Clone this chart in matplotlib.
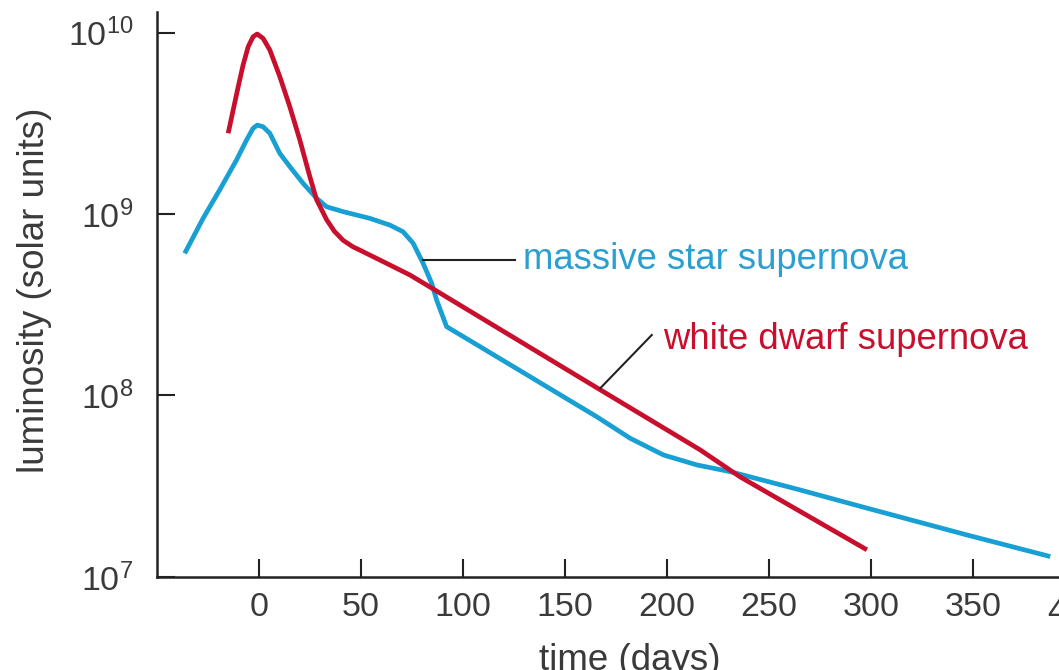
import matplotlib.pyplot as plt
import numpy as np

plt.rcParams['font.family'] = ['Liberation Sans', 'DejaVu Sans']
plt.rcParams['mathtext.fontset'] = 'custom'
plt.rcParams['mathtext.rm'] = 'Liberation Sans'
plt.rcParams['mathtext.it'] = 'Liberation Sans'

# massive star supernova (days, log10 luminosity in solar units)
massive_days = [-36.3, -27.3, -19.1, -10.9, -6.0, -2.8, -0.8, 2.1, 5.4, 10.3, 15.2,
                21.7, 28.3, 33.2, 41.3, 54.4, 64.2, 70.7, 75.6, 80.5, 84.7, 87.1,
                92.0, 100.2, 116.5, 132.8, 149.2, 165.5, 181.9, 198.2, 214.6, 230.9,
                265.2, 297.9, 346.9, 387.7]
massive_log = [8.783, 8.976, 9.134, 9.298, 9.408, 9.472, 9.490, 9.481, 9.445, 9.334,
               9.261, 9.169, 9.087, 9.040, 9.013, 8.976, 8.939, 8.902, 8.839, 8.728,
               8.618, 8.526, 8.379, 8.324, 8.214, 8.104, 7.993, 7.883, 7.764, 7.672,
               7.617, 7.580, 7.479, 7.379, 7.231, 7.112]

# white dwarf supernova
dwarf_days = [-15.0, -12.6, -10.1, -7.7, -5.2, -2.8, -0.8, 2.1, 5.4, 10.3, 15.2, 20.1,
              25.0, 28.3, 33.2, 37.0, 41.3, 46.0, 51.1, 62.6, 74.0, 83.8, 165.5, 216.2,
              235.8, 297.9]
dwarf_log = [9.445, 9.571, 9.701, 9.821, 9.922, 9.977, 9.992, 9.968, 9.904, 9.757,
             9.591, 9.408, 9.206, 9.079, 8.969, 8.905, 8.855, 8.820, 8.792, 8.728,
             8.664, 8.598, 8.043, 7.700, 7.551, 7.149]

x_ticks = [0, 50, 100, 150, 200, 250, 300, 350]
y_ticks = [1e7, 1e8, 1e9, 1e10]
y_labels = ['$10^{7}$', '$10^{8}$', '$10^{9}$', '$10^{10}$']

blue = '#189fd4'
red = '#c8102e'
ink = '#222222'
txt = '#3a3a3a'

fig = plt.figure(figsize=(10.59, 6.70), dpi=100)
ax = fig.add_axes([0.148, 0.139, 0.852, 0.843])

ax.plot(massive_days, 10 ** np.array(massive_log), color=blue, lw=3.4,
        solid_capstyle='butt', solid_joinstyle='round')
ax.plot(dwarf_days, 10 ** np.array(dwarf_log), color=red, lw=3.4,
        solid_capstyle='butt', solid_joinstyle='round')

ax.set_yscale('log')
ax.set_xlim(-50, 392)
ax.set_ylim(1e7, 10 ** 10.113)
ax.set_xticks(x_ticks)
ax.set_yticks(y_ticks)
ax.set_yticklabels(y_labels)
ax.minorticks_off()

for s in ['top', 'right']:
    ax.spines[s].set_visible(False)
for s in ['left', 'bottom']:
    ax.spines[s].set_linewidth(1.8)
    ax.spines[s].set_color(ink)

ax.tick_params(axis='both', direction='in', length=13, width=1.5, color=ink,
               labelcolor=txt)
ax.tick_params(axis='x', labelsize=24.5, pad=11)
ax.tick_params(axis='y', labelsize=24.5, pad=17)

# the "400" label, cut by the right edge
ax.text(400, -0.035, '400', transform=ax.get_xaxis_transform(), fontsize=24.5,
        color=txt, ha='center', va='top', clip_on=False)

fig.text(35 / 1059, 1 - 290 / 670, 'luminosity (solar units)', rotation=90,
         fontsize=26.5, color=txt, ha='center', va='center')
fig.text(630 / 1059, 1 - 643 / 670, 'time (days)', fontsize=26.5, color=txt,
         ha='center', va='top')

# callouts
ax.plot([80.4, 125.5], [10 ** 8.747, 10 ** 8.747], color=ink, lw=1.5)
ax.text(129.4, 10 ** 8.747, 'massive star supernova', fontsize=26.3, color='#2a9fd0',
        va='center', ha='left')
ax.plot([167.3, 192.5], [10 ** 8.040, 10 ** 8.333], color=ink, lw=1.5)
ax.text(197.8, 10 ** 8.306, 'white dwarf supernova', fontsize=26.3, color='#c8102e',
        va='center', ha='left')

plt.savefig('out.png', dpi=100)
